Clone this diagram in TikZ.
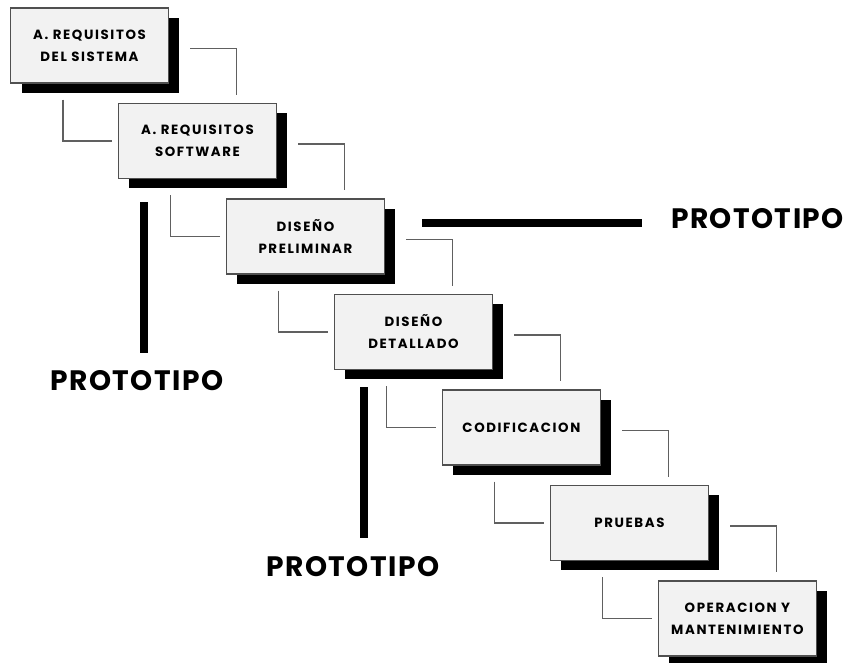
\documentclass[tikz,border=0pt]{standalone}
\usepackage{fontspec}
\newfontfamily\etapafont{Poppins}[LetterSpace=12]
\newfontfamily\protofont{Poppins}[LetterSpace=5]
\usetikzlibrary{positioning,shadows}

\definecolor{cajagris}{HTML}{F2F2F2}
\definecolor{bordegris}{HTML}{505050}
\definecolor{lineagris}{HTML}{606060}

\tikzset{
  etapa/.style={draw=bordegris, line width=0.8pt, fill=cajagris,
    minimum width=3.16cm, minimum height=1.5cm, inner sep=0pt, align=center,
    font=\etapafont\bfseries\fontsize{7.6}{12.5}\selectfont,
    drop shadow={shadow xshift=0.22cm, shadow yshift=-0.2cm, fill=black, opacity=1}},
  enlace/.style={draw=lineagris, line width=0.8pt},
  barra/.style={line width=0.16cm},
  proto/.style={font=\protofont\bfseries\fontsize{16}{20}\selectfont, inner sep=0pt}
}

\begin{document}
\begin{tikzpicture}[x=0.02cm,y=-0.02cm,node distance=1.91cm and 2.16cm,on grid]
\useasboundingbox (0,0) rectangle (847,662);

\node[etapa] (sistema) at (89.5,45.5) {A. REQUISITOS\\DEL SISTEMA};
\node[etapa] (software) [below right=of sistema] {A. REQUISITOS\\SOFTWARE};
\node[etapa] (preliminar) [below right=of software] {DISEÑO\\PRELIMINAR};
\node[etapa] (detallado) [below right=of preliminar] {DISEÑO\\DETALLADO};
\node[etapa] (codificacion) [below right=of detallado] {CODIFICACION};
\node[etapa] (pruebas) [below right=of codificacion] {PRUEBAS};
\node[etapa] (operacion) [below right=of pruebas] {OPERACION Y\\MANTENIMIENTO};

% enlaces entre etapas
\foreach \a/\b in {sistema/software,software/preliminar,preliminar/detallado,
    detallado/codificacion,codificacion/pruebas,pruebas/operacion} {
  \draw[enlace] ([shift={(21,3)}]\a.east) -| ([shift={(119,-8)}]\b.north west);
  \draw[enlace] ([shift={(53,16)}]\a.south west) |- ([shift={(-6,0)}]\b.west);
}

% prototipos
\node[proto] (proto1) at (137,381) {PROTOTIPO};
\node[proto] (proto2) at (757.5,218.5) {PROTOTIPO};
\node[proto] (proto3) at (353,567) {PROTOTIPO};

\coordinate (barra1a) at (144,202);
\coordinate (barra1b) at (144,353);
\coordinate (barra2a) at (422,223);
\coordinate (barra2b) at (642,223);
\coordinate (barra3a) at (363.5,387);
\coordinate (barra3b) at (363.5,538);

\draw[barra] (barra1a) -- (barra1b);
\draw[barra] (barra2a) -- (barra2b);
\draw[barra] (barra3a) -- (barra3b);

\end{tikzpicture}
\end{document}
